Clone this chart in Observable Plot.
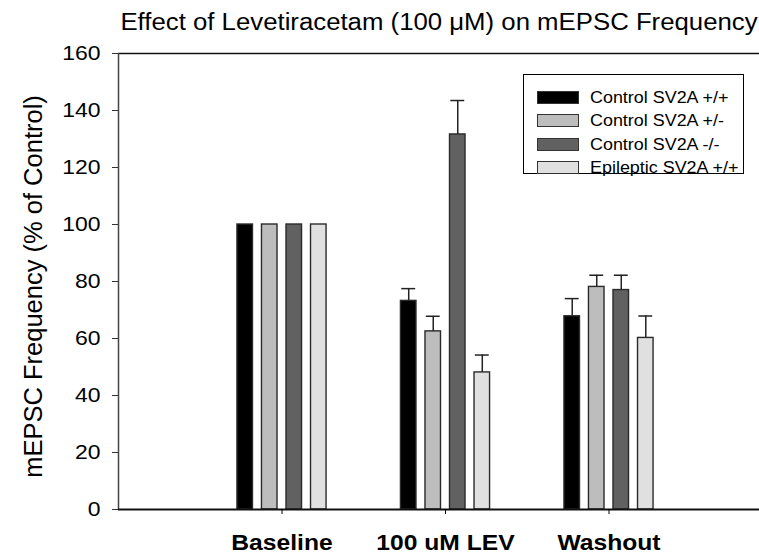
<!DOCTYPE html>
<html>
<head>
<meta charset="utf-8">
<script src="https://cdn.jsdelivr.net/npm/d3@7"></script>
<script src="https://cdn.jsdelivr.net/npm/@observablehq/plot@0.6"></script>
<style>
  html, body { margin: 0; padding: 0; background: #fff; }
  #wrap { position: relative; width: 759px; height: 556px; font-family: "Liberation Sans", Arial, sans-serif; }
  #legend { position: absolute; left: 523px; top: 74px; width: 221px; height: 100px; border: 1px solid #000; box-sizing: border-box; background: #fff; }
  .row { position: absolute; left: 13px; height: 16px; font-size: 16px; line-height: 16px; white-space: nowrap; color: #000; }
  .sw { display: inline-block; width: 40px; height: 11px; border: 1px solid #333; vertical-align: top; margin-top: 1px; margin-right: 11px; }
  .lt { display: inline-block; transform: scaleX(1.12); transform-origin: 0 50%; }
</style>
</head>
<body>
<div id="wrap"></div>
<script>
const title = "Effect of Levetiracetam (100 \u03BCM) on mEPSC Frequency";
const yLabel = "mEPSC Frequency (% of Control)";
const groups = ["Baseline", "100 uM LEV", "Washout"];
const series = ["Control SV2A +/+", "Control SV2A +/-", "Control SV2A -/-", "Epileptic SV2A +/+"];
const colors = ["#000000", "#bdbdbd", "#616161", "#e0e0e0"];
const yTicks = [0, 20, 40, 60, 80, 100, 120, 140, 160];

// values per series across groups
const valWT  = [100, 73.2, 67.8];
const valHet = [100, 62.5, 78.1];
const valKO  = [100, 131.6, 77.0];
const valEpi = [100, 48.1, 60.2];
// SEM per series across groups
const errWT  = [0, 4.3, 6.2];
const errHet = [0, 5.3, 4.1];
const errKO  = [0, 11.9, 5.2];
const errEpi = [0, 6.1, 7.7];

const vals = [valWT, valHet, valKO, valEpi];
const errs = [errWT, errHet, errKO, errEpi];

// layout parameters in x units (group spacing = 1)
const barStep = 0.15, barW = 0.095, capW = 0.085;
const textStretch = 1.12;

const data = [];
groups.forEach((g, gi) => series.forEach((s, si) => {
  const c = gi + 1 + (si - 1.5) * barStep;
  data.push({group: g, series: s, si, center: c, x1: c - barW / 2, x2: c + barW / 2,
             value: vals[si][gi], err: errs[si][gi], top: vals[si][gi] + errs[si][gi]});
}));
const errData = data.filter(d => d.err > 0);

const W = 759, H = 556, mL = 118, mR = 0, mT = 53, mB = 47;
const xMax = (W - mL - mR) / 163.5;

const plot = Plot.plot({
  width: W, height: H,
  marginLeft: mL, marginRight: mR, marginTop: mT, marginBottom: mB,
  style: {fontFamily: "'Liberation Sans', Arial, sans-serif", background: "#fff", overflow: "visible"},
  x: {type: "linear", domain: [0, xMax]},
  y: {domain: [0, 160]},
  color: {domain: series, range: colors},
  marks: [
    Plot.ruleY([160], {stroke: "#111", strokeWidth: 1.5}),
    Plot.ruleX([0], {stroke: "#444", strokeWidth: 1.5}),
    Plot.rectY(data, {x1: "x1", x2: "x2", y1: 0, y2: "value", fill: d => d.series, stroke: "#2a2a2a", strokeWidth: 1.4}),
    Plot.ruleX(errData, {x: "center", y1: "value", y2: "top", stroke: "#222", strokeWidth: 1.5}),
    Plot.ruleY(errData, {x1: d => d.center - capW / 2, x2: d => d.center + capW / 2, y: "top", stroke: "#222", strokeWidth: 1.5}),
    Plot.ruleY([0], {stroke: "#111", strokeWidth: 2}),
    Plot.axisY({ticks: yTicks, tickSize: 6, tickPadding: 12, fontSize: 20.5, label: null, stroke: "#333", color: "#000"}),
    Plot.axisX({ticks: [1, 2, 3], tickFormat: i => groups[i - 1], tickSize: 5, tickPadding: 20, fontSize: 22, fontWeight: "bold", label: null, color: "#000"}),
    Plot.text([yLabel], {frameAnchor: "left", rotate: -90, dx: -85, dy: 5, textAnchor: "middle", fontSize: 25.5, fill: "#000"}),
    Plot.text([title], {frameAnchor: "top", dy: -31, lineAnchor: "middle", fontSize: 23, fill: "#000"})
  ]
});

const wrap = document.getElementById("wrap");
wrap.appendChild(plot);

// the reference's horizontal texts are slightly widened
plot.querySelectorAll("text").forEach(t => {
  const tr = t.getAttribute("transform") || "";
  if (tr.includes("rotate")) return;
  const L = t.getComputedTextLength();
  if (L > 0) {
    t.setAttribute("textLength", L * textStretch);
    t.setAttribute("lengthAdjust", "spacingAndGlyphs");
  }
});

const legend = document.createElement("div");
legend.id = "legend";
series.forEach((s, i) => {
  const row = document.createElement("div");
  row.className = "row";
  row.style.top = (15 + i * 23.3) + "px";
  const sw = document.createElement("span");
  sw.className = "sw";
  sw.style.background = colors[i];
  row.appendChild(sw);
  const lt = document.createElement("span");
  lt.className = "lt";
  lt.textContent = s;
  row.appendChild(lt);
  legend.appendChild(row);
});
wrap.appendChild(legend);
</script>
</body>
</html>
